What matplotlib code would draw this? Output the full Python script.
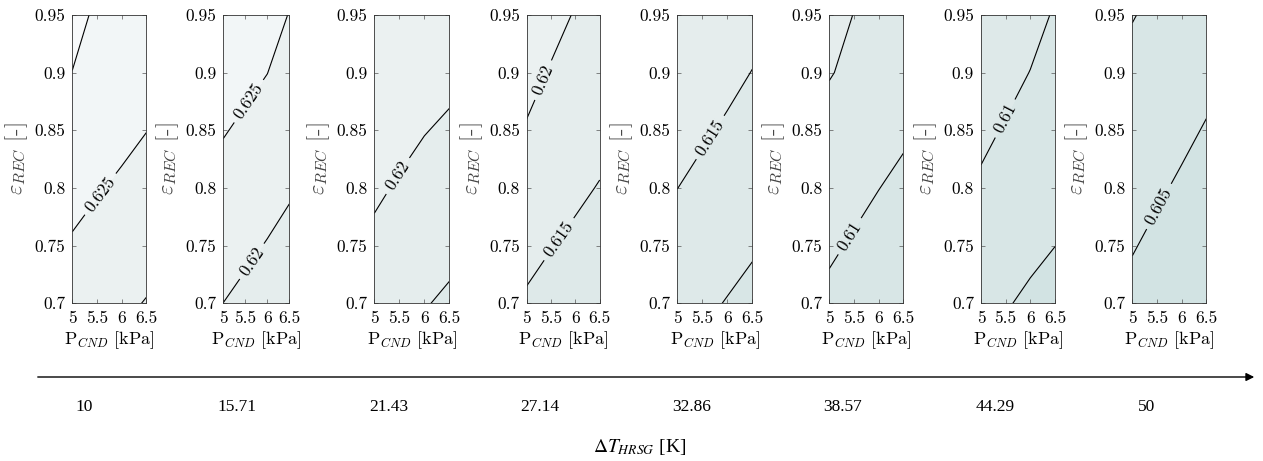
import matplotlib
matplotlib.use("Agg")
import matplotlib.pyplot as plt
import numpy as np
from matplotlib.colors import ListedColormap, BoundaryNorm
from matplotlib.patches import FancyArrowPatch

plt.rcParams['font.family'] = 'cmr10'
plt.rcParams['mathtext.fontset'] = 'cm'
plt.rcParams['axes.formatter.use_mathtext'] = True

# grid of the maps
p_cnd = [5.0, 5.5, 6.0, 6.5]                    # kPa
eps_rec = [0.70, 0.75, 0.80, 0.85, 0.90, 0.95]  # -

dT_hrsg = ['10', '15.71', '21.43', '27.14', '32.86', '38.57', '44.29', '50']

# efficiency maps, rows = eps_rec, columns = p_cnd
eff_dT1 = [[0.62279, 0.62175, 0.62075, 0.61982],
           [0.62457, 0.62354, 0.62254, 0.62157],
           [0.62636, 0.62532, 0.62432, 0.62332],
           [0.62814, 0.62711, 0.62611, 0.62507],
           [0.62993, 0.62889, 0.62789, 0.62682],
           [0.63170, 0.62920, 0.62850, 0.62780]]
eff_dT2 = [[0.61998, 0.61902, 0.61804, 0.61745],
           [0.62175, 0.62077, 0.61979, 0.61893],
           [0.62350, 0.62252, 0.62154, 0.62041],
           [0.62525, 0.62427, 0.62329, 0.62189],
           [0.62700, 0.62602, 0.62504, 0.62337],
           [0.62875, 0.62777, 0.62679, 0.62485]]
eff_dT3 = [[0.61731, 0.61610, 0.61523, 0.61437],
           [0.61903, 0.61783, 0.61688, 0.61603],
           [0.62076, 0.61955, 0.61852, 0.61770],
           [0.62248, 0.62128, 0.62016, 0.61937],
           [0.62380, 0.62300, 0.62181, 0.62103],
           [0.62480, 0.62430, 0.62330, 0.62270]]
eff_dT4 = [[0.61448, 0.61360, 0.61293, 0.61222],
           [0.61621, 0.61512, 0.61429, 0.61352],
           [0.61793, 0.61665, 0.61566, 0.61482],
           [0.61966, 0.61817, 0.61702, 0.61612],
           [0.62138, 0.61970, 0.61839, 0.61742],
           [0.62310, 0.62123, 0.61975, 0.61872]]
eff_dT5 = [[0.61173, 0.61074, 0.60981, 0.60892],
           [0.61338, 0.61234, 0.61136, 0.61042],
           [0.61503, 0.61394, 0.61291, 0.61192],
           [0.61668, 0.61554, 0.61447, 0.61341],
           [0.61833, 0.61714, 0.61602, 0.61491],
           [0.61950, 0.61870, 0.61757, 0.61640]]
eff_dT6 = [[0.60908, 0.60804, 0.60699, 0.60601],
           [0.61061, 0.60957, 0.60853, 0.60754],
           [0.61215, 0.61111, 0.61006, 0.60908],
           [0.61368, 0.61264, 0.61160, 0.61061],
           [0.61521, 0.61418, 0.61313, 0.61215],
           [0.61680, 0.61490, 0.61450, 0.61370]]
eff_dT7 = [[0.60628, 0.60525, 0.60439, 0.60387],
           [0.60783, 0.60670, 0.60577, 0.60502],
           [0.60938, 0.60815, 0.60715, 0.60618],
           [0.61093, 0.60966, 0.60854, 0.60733],
           [0.61248, 0.61121, 0.60992, 0.60849],
           [0.61403, 0.61276, 0.61130, 0.60965]]
eff_dT8 = [[0.60398, 0.60299, 0.60202, 0.60103],
           [0.60522, 0.60423, 0.60326, 0.60227],
           [0.60646, 0.60547, 0.60450, 0.60351],
           [0.60770, 0.60671, 0.60574, 0.60475],
           [0.60893, 0.60795, 0.60698, 0.60599],
           [0.61017, 0.60919, 0.60822, 0.60723]]

# which iso-lines carry a label in each map, and roughly where
label_levels = [[0.625], [0.62, 0.625], [0.62], [0.615, 0.62],
                [0.615], [0.61], [0.61], [0.605]]
label_spots = [[(5.56, 0.795)],
               [(5.55, 0.739), (5.55, 0.876)],
               [(5.45, 0.811)],
               [(5.58, 0.758), (5.42, 0.892)],
               [(5.58, 0.846)],
               [(5.53, 0.755)],
               [(5.50, 0.860)],
               [(5.54, 0.784)]]

levels = [0.600, 0.605, 0.610, 0.615, 0.620, 0.625, 0.630, 0.635]
band_colors = ['#d2e3e3', '#d8e6e6', '#dee9e9', '#e5eded',
               '#ebf1f1', '#f2f6f7', '#f8fafb']

x_ticks = [5, 5.5, 6, 6.5]
x_ticklabels = ['5', '5.5', '6', '6.5']
y_ticks = [0.7, 0.75, 0.8, 0.85, 0.9, 0.95]
y_ticklabels = ['0.7', '0.75', '0.8', '0.85', '0.9', '0.95']

maps = [eff_dT1, eff_dT2, eff_dT3, eff_dT4, eff_dT5, eff_dT6, eff_dT7, eff_dT8]

W, H = 1263, 461
fig = plt.figure(figsize=(W / 100, H / 100), dpi=100)

lefts = [72.3, 223.3, 374.3, 526.7, 677.3, 829.3, 981.0, 1132.3]
widths = [74, 66, 75, 73, 75, 74, 74, 74]
top, bottom = 15, 303.3

cmap = ListedColormap(band_colors)
norm = BoundaryNorm(levels, cmap.N)
P, E = np.meshgrid(p_cnd, eps_rec)

for i, eff in enumerate(maps):
    ax = fig.add_axes([lefts[i] / W, 1 - bottom / H, widths[i] / W, (bottom - top) / H])
    Z = np.array(eff)
    ax.contourf(P, E, Z, levels=levels, cmap=cmap, norm=norm)
    plain = [lv for lv in levels if lv not in label_levels[i]]
    ax.contour(P, E, Z, levels=plain, colors='k', linewidths=0.8)
    cs = ax.contour(P, E, Z, levels=label_levels[i], colors='k', linewidths=0.8)
    ax.clabel(cs, inline=True, fontsize=12.5, fmt='%g',
              inline_spacing=6, manual=label_spots[i])
    ax.set_xlim(5, 6.5)
    ax.set_ylim(0.7, 0.95)
    ax.set_xticks(x_ticks)
    ax.set_xticklabels(x_ticklabels)
    ax.set_yticks(y_ticks)
    ax.set_yticklabels(y_ticklabels)
    ax.tick_params(direction='in', length=3, width=0.5, color='#555555',
                   labelsize=12.5, top=True, right=True, pad=5)
    for s in ax.spines.values():
        s.set_linewidth(0.6)
        s.set_color('#333333')
    ax.set_xlabel(r'P$_{CND}$ [kPa]', fontsize=13, labelpad=3)
    ax.set_ylabel(r'$\varepsilon_{REC}$ [-]', fontsize=16, labelpad=3, color='#444444')

# delta T axis at the bottom
arrow = FancyArrowPatch((35 / W, 1 - 377 / H), (1257 / W, 1 - 377 / H),
                        transform=fig.transFigure, arrowstyle='-|>',
                        mutation_scale=12, linewidth=1.0, color='k')
fig.add_artist(arrow)

num_x = [84, 237, 389, 540, 692, 843, 995, 1147]
for x, lab in zip(num_x, dT_hrsg):
    fig.text(x / W, 1 - 407 / H, lab, ha='center', va='center',
             fontsize=12.5, family='Liberation Serif')

fig.text(640 / W, 1 - 447 / H, r'$\Delta T_{HRSG}$ [K]', ha='center', va='center',
         fontsize=14, family='Liberation Serif', math_fontfamily='stix')

fig.savefig('out.png', dpi=100)
